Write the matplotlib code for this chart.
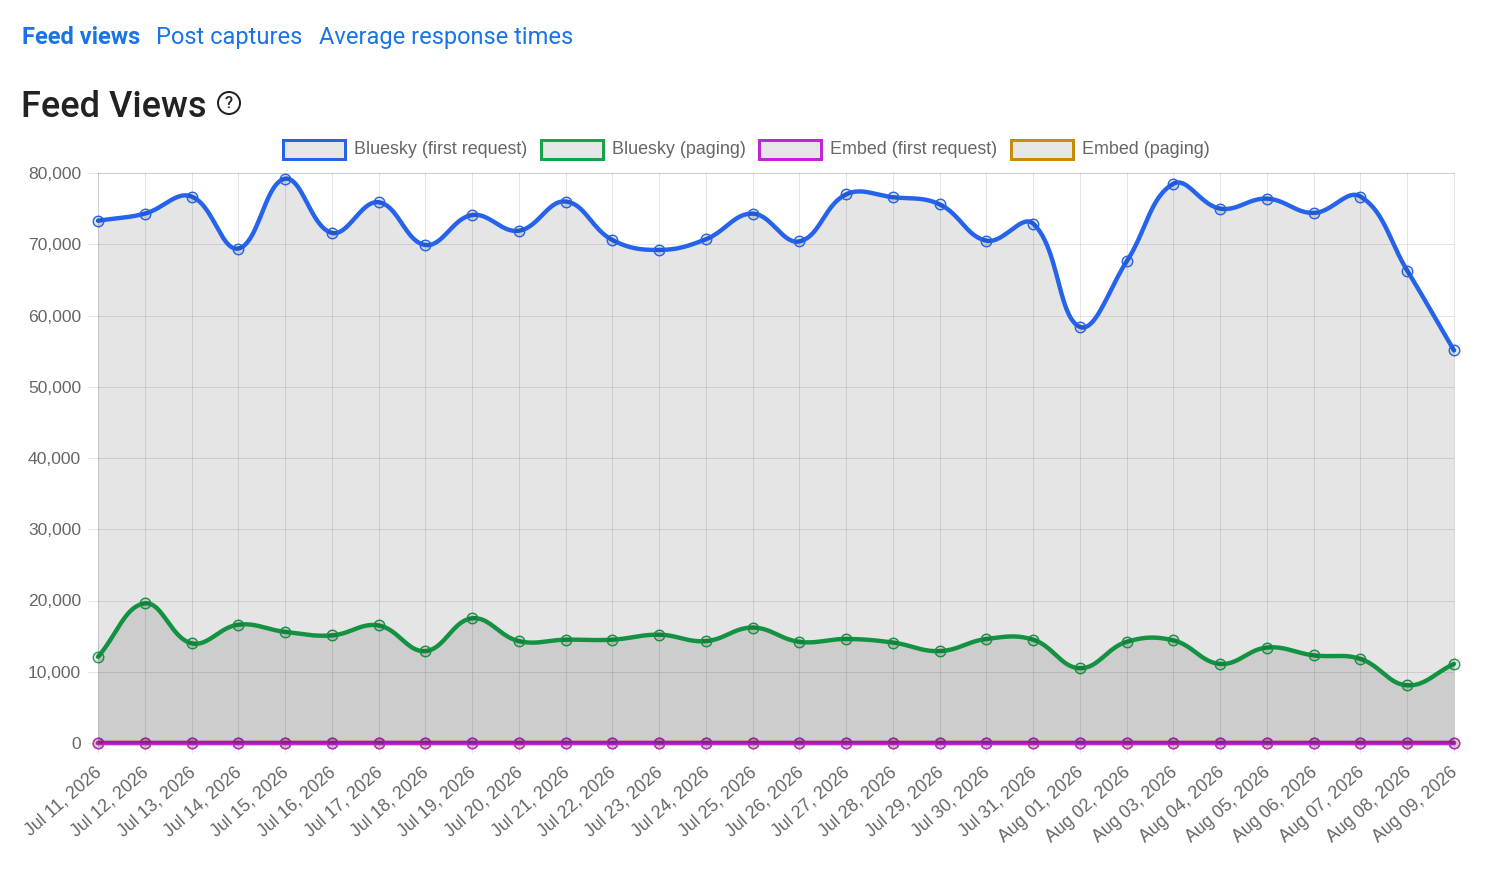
import numpy as np
import matplotlib
matplotlib.use('Agg')
import matplotlib.pyplot as plt
from matplotlib.patches import Rectangle, Circle
from matplotlib.transforms import IdentityTransform, ScaledTranslation
from matplotlib.ticker import FuncFormatter

# ---------------- data ----------------
dates = ["Jul 11, 2026", "Jul 12, 2026", "Jul 13, 2026", "Jul 14, 2026", "Jul 15, 2026",
         "Jul 16, 2026", "Jul 17, 2026", "Jul 18, 2026", "Jul 19, 2026", "Jul 20, 2026",
         "Jul 21, 2026", "Jul 22, 2026", "Jul 23, 2026", "Jul 24, 2026", "Jul 25, 2026",
         "Jul 26, 2026", "Jul 27, 2026", "Jul 28, 2026", "Jul 29, 2026", "Jul 30, 2026",
         "Jul 31, 2026", "Aug 01, 2026", "Aug 02, 2026", "Aug 03, 2026", "Aug 04, 2026",
         "Aug 05, 2026", "Aug 06, 2026", "Aug 07, 2026", "Aug 08, 2026", "Aug 09, 2026"]

bluesky_first = [73300, 74300, 76700, 69400, 79200, 71600, 75900, 69900, 74100, 71900,
                 76000, 70600, 69200, 70700, 74300, 70400, 77000, 76600, 75600, 70500,
                 72900, 58400, 67600, 78500, 75000, 76400, 74400, 76700, 66300, 55100]

bluesky_paging = [12100, 19600, 14000, 16600, 15600, 15100, 16500, 12900, 17500, 14300,
                  14500, 14500, 15200, 14300, 16200, 14200, 14600, 14100, 12900, 14600,
                  14500, 10500, 14200, 14400, 11100, 13400, 12300, 11800, 8100, 11100]

embed_first = [0] * 30
embed_paging = [0] * 30

series_names = ["Bluesky (first request)", "Bluesky (paging)",
                "Embed (first request)", "Embed (paging)"]
series_values = [bluesky_first, bluesky_paging, embed_first, embed_paging]
series_colors = ["#2563eb", "#16a34a", "#c026d3", "#ca8a04"]

y_ticks = list(range(0, 80001, 10000))

# ---------------- helpers ----------------
W, H, DPI = 1485, 871, 100
PX = 72.0 / DPI  # points per pixel

def spline(xs, ys, sx, sy, t=0.4, n=24):
    P = np.column_stack([np.asarray(xs, float) * sx, np.asarray(ys, float) * sy])
    N = len(P)
    cp_prev = np.zeros_like(P)
    cp_next = np.zeros_like(P)
    for i in range(N):
        prev = P[i - 1] if i > 0 else P[i]
        nxt = P[i + 1] if i < N - 1 else P[i]
        d01 = np.hypot(*(P[i] - prev))
        d12 = np.hypot(*(nxt - P[i]))
        tot = d01 + d12
        s01 = d01 / tot if tot else 0
        s12 = d12 / tot if tot else 0
        cp_prev[i] = P[i] - t * s01 * (nxt - prev)
        cp_next[i] = P[i] + t * s12 * (nxt - prev)
    tt = np.linspace(0, 1, n)
    out = []
    for i in range(N - 1):
        p0, p1, p2, p3 = P[i], cp_next[i], cp_prev[i + 1], P[i + 1]
        seg = (((1 - tt) ** 3)[:, None] * p0 + (3 * (1 - tt) ** 2 * tt)[:, None] * p1
               + (3 * (1 - tt) * tt ** 2)[:, None] * p2 + (tt ** 3)[:, None] * p3)
        out.append(seg if i == 0 else seg[1:])
    out = np.vstack(out)
    return out[:, 0] / sx, out[:, 1] / sy

# ---------------- figure ----------------
fig = plt.figure(figsize=(W / DPI, H / DPI), dpi=DPI)
fig.patch.set_facecolor("white")

ax_l, ax_r, ax_t, ax_b = 98, 1454, 173, 743
ax = fig.add_axes([ax_l / W, 1 - ax_b / H, (ax_r - ax_l) / W, (ax_b - ax_t) / H])
ax.set_facecolor("white")

x = np.arange(len(dates))
ax.set_xlim(0, len(dates) - 1)
ax.set_ylim(0, 80000)

sx = (ax_r - ax_l) / (len(dates) - 1)
sy = (ax_b - ax_t) / 80000.0

fill_col = (0, 0, 0, 0.1)
z = 2
for name, vals, col in reversed(list(zip(series_names, series_values, series_colors))):
    xs, ys = spline(x, vals, sx, sy)
    ax.fill_between(xs, 0, ys, color=fill_col, lw=0, zorder=z)
    ax.plot(xs, ys, color=col, lw=4.4 * PX, solid_capstyle='round',
            solid_joinstyle='round', zorder=z + 0.1, clip_on=False)
    ax.plot(x, vals, ls='none', marker='o', ms=10.5 * PX, mfc=fill_col, mec=col,
            mew=1.4 * PX, zorder=z + 0.2, clip_on=False)
    z += 1

# grid and ticks
ax.set_axisbelow(True)
ax.grid(True, color='black', alpha=0.1, lw=1 * PX)
ax.set_xticks(x)
ax.set_xticklabels(dates, rotation=41, ha='right', va='top', rotation_mode='anchor')
ax.set_yticks(y_ticks)
ax.yaxis.set_major_formatter(FuncFormatter(lambda v, p: f"{int(v):,}"))
ax.tick_params(axis='both', color=(0, 0, 0, 0.1), length=10 * PX, width=1 * PX,
               labelcolor="#666666", labelsize=12.6)
ax.tick_params(axis='y', pad=5)
ax.tick_params(axis='x', pad=8, labelsize=12.8)
shift = ScaledTranslation(-4 / DPI, 0, fig.dpi_scale_trans)
for lab in ax.get_xticklabels():
    lab.set_fontfamily("Liberation Sans")
    lab.set_transform(lab.get_transform() + shift)
for lab in ax.get_yticklabels():
    lab.set_fontfamily("Liberation Sans")
for s in ax.spines.values():
    s.set_color((0, 0, 0, 0.1))
    s.set_linewidth(1 * PX)

# ---------------- legend (drawn manually in pixels) ----------------
ident = IdentityTransform()
box_x = [283, 541, 759, 1011]
txt_x = [354, 612, 830, 1082]
for bx, tx, name, col in zip(box_x, txt_x, series_names, series_colors):
    fig.add_artist(Rectangle((bx, H - 159), 62, 19, transform=ident,
                             facecolor="#e6e6e6", edgecolor=col, lw=3 * PX))
    fig.text(tx / W, 1 - 149.5 / H, name, ha='left', va='center', fontsize=12.9,
             color="#666666", family="Liberation Sans")

# ---------------- header ----------------
link_col = "#1a73e8"
fig.text(22 / W, 1 - 44 / H, "Feed views", ha='left', va='baseline', fontsize=17,
         fontweight='bold', color=link_col, family="Roboto")
fig.text(156 / W, 1 - 44 / H, "Post captures", ha='left', va='baseline', fontsize=17,
         color=link_col, family="Roboto")
fig.text(319 / W, 1 - 44 / H, "Average response times", ha='left', va='baseline',
         fontsize=17, color=link_col, family="Roboto")

fig.text(21 / W, 1 - 117 / H, "Feed Views", ha='left', va='baseline', fontsize=26,
         fontweight='medium', color="#222222", family="Roboto")
fig.add_artist(Circle((229, H - 103), 11, transform=ident, facecolor='none',
                      edgecolor="#222222", lw=2 * PX))
fig.text(229 / W, 1 - 103.5 / H, "?", ha='center', va='center', fontsize=12,
         color="#222222", family="Roboto", fontweight='medium')

fig.savefig("out.png", dpi=DPI, facecolor="white")
